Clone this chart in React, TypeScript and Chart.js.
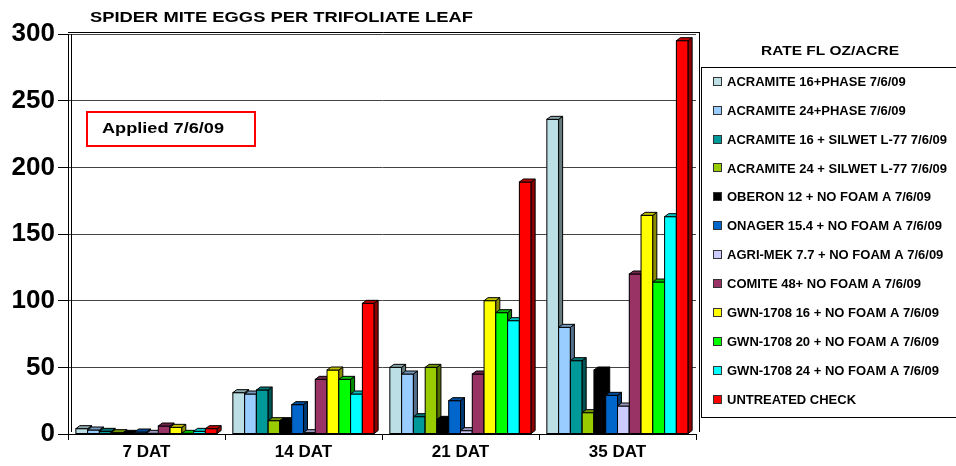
import React, { useEffect, useRef } from "react";
import { Chart, registerables } from "chart.js";

Chart.register(...registerables);

const categories = ["7 DAT", "14 DAT", "21 DAT", "35 DAT"];

const acramite16Phase = [4, 31, 50, 236];
const acramite24Phase = [3, 30, 45, 80];
const acramite16Silwet = [2, 33, 13, 55];
const acramite24Silwet = [1, 10, 50, 16];
const oberon12 = [0.5, 10, 11, 48];
const onager154 = [1.5, 22, 25, 29];
const agriMek77 = [0.5, 1, 2.5, 21];
const comite48 = [6, 41, 45, 120];
const gwn1708at16 = [5, 48, 100, 164];
const gwn1708at20 = [0.5, 41, 91, 114];
const gwn1708at24 = [2, 30, 85, 163];
const untreatedCheck = [4, 98, 189, 295];

const seriesLabels = [
  "ACRAMITE 16+PHASE 7/6/09",
  "ACRAMITE 24+PHASE 7/6/09",
  "ACRAMITE 16 + SILWET L-77 7/6/09",
  "ACRAMITE 24 + SILWET L-77 7/6/09",
  "OBERON 12 + NO FOAM A 7/6/09",
  "ONAGER 15.4 + NO FOAM A 7/6/09",
  "AGRI-MEK 7.7 + NO FOAM A 7/6/09",
  "COMITE 48+ NO FOAM A 7/6/09",
  "GWN-1708 16 + NO FOAM A 7/6/09",
  "GWN-1708 20 + NO FOAM A 7/6/09",
  "GWN-1708 24 + NO FOAM A 7/6/09",
  "UNTREATED CHECK",
];

const seriesValues = [
  acramite16Phase,
  acramite24Phase,
  acramite16Silwet,
  acramite24Silwet,
  oberon12,
  onager154,
  agriMek77,
  comite48,
  gwn1708at16,
  gwn1708at20,
  gwn1708at24,
  untreatedCheck,
];

const seriesColors = [
  "#BBDFE4",
  "#99CCFF",
  "#009999",
  "#99CC00",
  "#000000",
  "#0066CC",
  "#CCCCFF",
  "#993366",
  "#FFFF00",
  "#00FF00",
  "#00FFFF",
  "#FF0000",
];

const titleText = "SPIDER MITE EGGS PER TRIFOLIATE LEAF";
const legendTitle = "RATE FL OZ/ACRE";
const noteText = "Applied 7/6/09";

const FONT = '"Liberation Sans", Arial, sans-serif';

function shade(hex: string, f: number) {
  const n = parseInt(hex.slice(1), 16);
  const r = Math.round(((n >> 16) & 255) * f);
  const g = Math.round(((n >> 8) & 255) * f);
  const b = Math.round((n & 255) * f);
  return `rgb(${r},${g},${b})`;
}

function scaledText(
  ctx: CanvasRenderingContext2D,
  text: string,
  x: number,
  y: number,
  font: string,
  width: number
) {
  ctx.save();
  ctx.font = font;
  const w = ctx.measureText(text).width;
  ctx.translate(x, y);
  ctx.scale(width / w, 1);
  ctx.textAlign = "left";
  ctx.textBaseline = "middle";
  ctx.fillStyle = "#000";
  ctx.fillText(text, 0, 0);
  ctx.restore();
}

const decoPlugin = {
  id: "deco",
  beforeDatasetsDraw(chart: any) {
    const { ctx, chartArea: a } = chart;
    ctx.save();
    ctx.strokeStyle = "#000";
    ctx.lineWidth = 1;
    ctx.beginPath();
    ctx.moveTo(a.left + 3.5, a.top);
    ctx.lineTo(a.left + 3.5, a.bottom - 2);
    ctx.moveTo(a.right + 3.5, a.top - 2);
    ctx.lineTo(a.right + 3.5, a.bottom - 2);
    ctx.moveTo(a.left, a.top - 1.5);
    ctx.lineTo(a.right + 3.5, a.top - 1.5);
    ctx.stroke();
    ctx.restore();
  },
  afterDatasetsDraw(chart: any) {
    const ctx: CanvasRenderingContext2D = chart.ctx;
    const n = chart.data.datasets.length;
    const dx = 4;
    const dy = 3;
    ctx.save();
    ctx.lineWidth = 1;
    ctx.strokeStyle = "#000";
    for (let c = 0; c < categories.length; c++) {
      for (let i = 0; i < n; i++) {
        const el = chart.getDatasetMeta(i).data[c];
        if (!el) continue;
        const { x, y, base, width } = el.getProps(["x", "y", "base", "width"], true);
        const l = x - width / 2;
        const r = x + width / 2;
        const col = seriesColors[i];
        ctx.fillStyle = col;
        ctx.fillRect(l, y, width, base - y);
        ctx.strokeRect(l, y, width, base - y);
        ctx.beginPath();
        ctx.moveTo(r, y);
        ctx.lineTo(r + dx, y - dy);
        ctx.lineTo(r + dx, base - dy);
        ctx.lineTo(r, base);
        ctx.closePath();
        ctx.fillStyle = shade(col, 0.55);
        ctx.fill();
        ctx.stroke();
        ctx.beginPath();
        ctx.moveTo(l, y);
        ctx.lineTo(l + dx, y - dy);
        ctx.lineTo(r + dx, y - dy);
        ctx.lineTo(r, y);
        ctx.closePath();
        ctx.fillStyle = shade(col, 0.75);
        ctx.fill();
        ctx.stroke();
      }
    }
    ctx.restore();
  },
  afterDraw(chart: any) {
    const ctx: CanvasRenderingContext2D = chart.ctx;
    // title
    scaledText(ctx, titleText, 90, 18, `bold 15px ${FONT}`, 383);
    // note box
    ctx.save();
    ctx.strokeStyle = "#FF0000";
    ctx.lineWidth = 2;
    ctx.strokeRect(87, 112, 168, 34);
    ctx.restore();
    scaledText(ctx, noteText, 102, 129.5, `bold 14px ${FONT}`, 122);
    // legend
    scaledText(ctx, legendTitle, 761, 51.5, `bold 13px ${FONT}`, 138);
    ctx.save();
    ctx.strokeStyle = "#000";
    ctx.lineWidth = 1;
    ctx.strokeRect(701.5, 67.5, 270, 350);
    ctx.font = `bold 13px ${FONT}`;
    ctx.textBaseline = "middle";
    ctx.textAlign = "left";
    chart.data.datasets.forEach((ds: any, i: number) => {
      const yy = 81.7 + i * 28.93;
      ctx.fillStyle = seriesColors[i];
      ctx.fillRect(713.5, Math.round(yy) - 4.5, 8, 8);
      ctx.strokeStyle = "#333";
      ctx.strokeRect(713.5, Math.round(yy) - 4.5, 8, 8);
      ctx.fillStyle = "#000";
      ctx.fillText(ds.label, 727, yy + 0.5);
    });
    ctx.restore();
  },
};

export default function App() {
  const ref = useRef<HTMLCanvasElement | null>(null);
  useEffect(() => {
    if (!ref.current) return;
    const chart = new Chart(ref.current, {
      type: "bar",
      data: {
        labels: categories,
        datasets: seriesLabels.map((label, i) => ({
          label,
          data: seriesValues[i],
          backgroundColor: seriesColors[i],
          borderColor: "#000",
          borderWidth: 0,
          categoryPercentage: 0.9,
          barPercentage: 1.0,
        })),
      },
      options: {
        responsive: false,
        animation: false,
        devicePixelRatio: 1,
        layout: { padding: { top: 34, right: 260, left: 0, bottom: 0 } },
        plugins: {
          legend: { display: false },
          tooltip: { enabled: false },
          title: { display: false },
        },
        scales: {
          x: {
            afterFit: (s: any) => {
              s.height = 32;
            },
            grid: {
              offset: true,
              drawOnChartArea: false,
              drawTicks: true,
              tickLength: 6,
              color: "#000",
            },
            border: { display: true, color: "#000" },
            ticks: {
              color: "#000",
              padding: 2,
              font: { family: FONT, size: 17, weight: "bold" },
            },
          },
          y: {
            min: 0,
            max: 300,
            afterFit: (s: any) => {
              s.width = 68;
            },
            grid: {
              color: "#444",
              drawTicks: true,
              tickLength: 10,
              tickColor: "#000",
            },
            border: { display: true, color: "#000" },
            ticks: {
              stepSize: 50,
              color: "#000",
              padding: 3,
              font: { family: FONT, size: 26, weight: "bold" },
            },
          },
        },
      },
      plugins: [decoPlugin],
    });
    return () => chart.destroy();
  }, []);
  return (
    <div style={{ position: "absolute", left: 0, top: 0, width: 956, height: 466, background: "#fff" }}>
      <canvas ref={ref} width={956} height={466} style={{ display: "block" }} />
    </div>
  );
}
